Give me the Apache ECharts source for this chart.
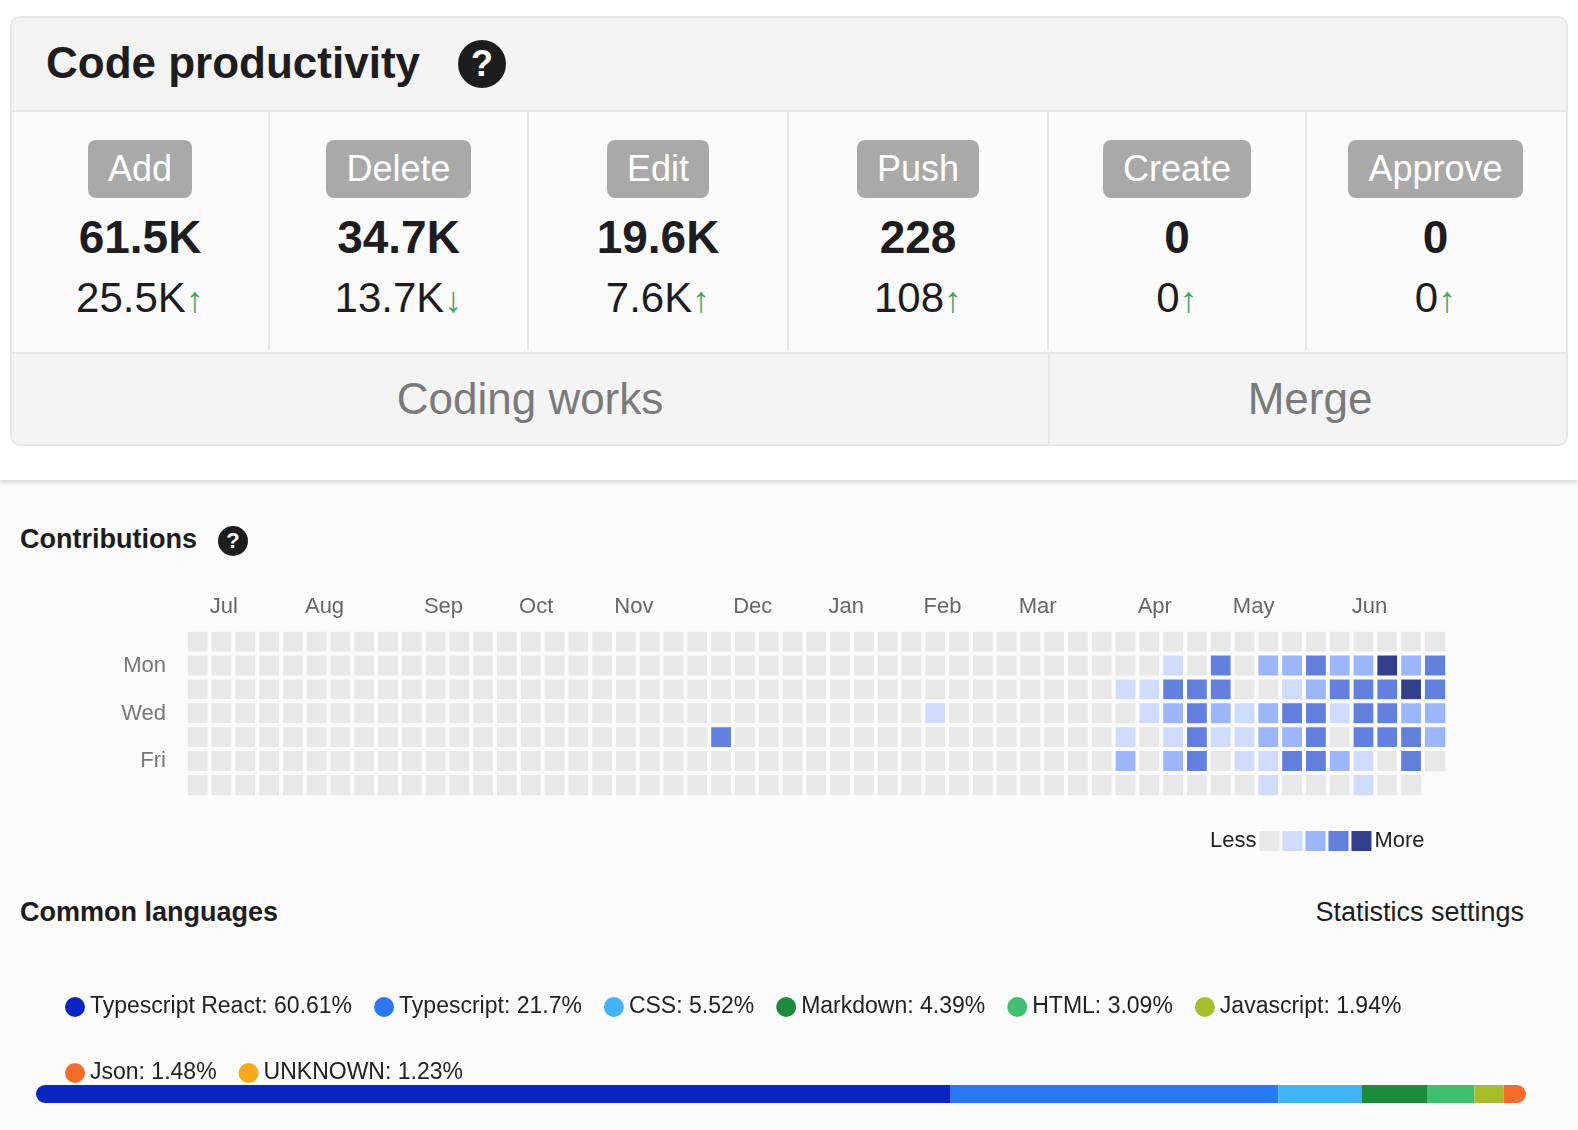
<!DOCTYPE html>
<html>
<head>
<meta charset="utf-8">
<script src="https://cdn.jsdelivr.net/npm/echarts@6/dist/echarts.min.js"></script>
<style>
  body { margin:0; width:1578px; height:1130px; background:#fbfbfb; font-family:"Liberation Sans", Arial, sans-serif; color:#222; position:relative; overflow:hidden; }
  .top { position:absolute; left:0; top:0; width:1578px; height:480px; background:#fff; box-shadow:0 3px 4px rgba(0,0,0,0.12); }
  .card { position:absolute; left:10px; top:16px; width:1554px; height:426px; border:2px solid #e6e6e6; border-radius:10px; background:#fafafa; overflow:hidden; }
  .head { position:absolute; left:0; top:0; width:100%; height:92px; background:#f4f4f4; border-bottom:2px solid #e6e6e6; }
  .head span.t { position:absolute; left:34px; top:20px; font-size:44px; font-weight:bold; color:#1d1d1f; }
  .q { display:inline-block; background:#1d1d1f; color:#fff; border-radius:50%; text-align:center; font-weight:bold; position:absolute; }
  .cell { position:absolute; top:94px; height:238px; border-right:2px solid #e6e6e6; text-align:center; }
  .pill { display:inline-block; margin-top:28px; background:#a9a9a9; color:#fff; font-size:36px; line-height:58px; height:58px; padding:0 20px; border-radius:8px; }
  .big { font-size:46px; font-weight:bold; margin-top:12px; color:#1d1d1f; }
  .sub { font-size:42px; margin-top:10px; color:#1d1d1f; }
  .sub b { color:#3fa46c; font-size:36px; }
  .foot { position:absolute; top:334px; height:92px; background:#f4f4f4; border-top:2px solid #e6e6e6; text-align:center; font-size:44px; line-height:90px; color:#7a7a7a; }
  .h2 { position:absolute; font-size:27px; font-weight:bold; color:#1d1d1f; }
  #chart { position:absolute; left:0; top:480px; width:1578px; height:650px; }
</style>
</head>
<body>
<div class="top">
  <div class="card">
    <div class="head"><span class="t">Code productivity</span><span class="q" style="left:446px;top:22px;width:48px;height:48px;line-height:48px;font-size:36px;">?</span></div>
    <div id="cells"></div>
    <div class="foot" style="left:0;width:1036px;border-right:2px solid #e6e6e6;">Coding works</div>
    <div class="foot" style="left:1038px;width:520px;">Merge</div>
  </div>
</div>
<div class="h2" style="left:20px;top:524px;">Contributions</div>
<span class="q" style="left:218px;top:526px;width:30px;height:30px;line-height:30px;font-size:22px;">?</span>
<div class="h2" style="left:20px;top:897px;">Common languages</div>
<div style="position:absolute;right:54px;top:897px;font-size:27px;color:#1d1d1f;">Statistics settings</div>
<div id="chart"></div>
<script>
// 顶部指标
var metricNames = ['Add', 'Delete', 'Edit', 'Push', 'Create', 'Approve'];
var metricTotals = ['61.5K', '34.7K', '19.6K', '228', '0', '0'];
var metricDeltas = ['25.5K', '13.7K', '7.6K', '108', '0', '0'];
var metricUp = [true, false, true, true, true, true];

// 贡献热力图（每行 53 周，0-4 级）
var weekDays = ['Sun', 'Mon', 'Tue', 'Wed', 'Thu', 'Fri', 'Sat'];
var monthNames = ['Jul', 'Aug', 'Sep', 'Oct', 'Nov', 'Dec', 'Jan', 'Feb', 'Mar', 'Apr', 'May', 'Jun'];
var monthStartWeeks = [1, 5, 10, 14, 18, 23, 27, 31, 35, 40, 44, 49];
var rowSun = [0,0,0,0,0,0,0,0,0,0, 0,0,0,0,0,0,0,0,0,0, 0,0,0,0,0,0,0,0,0,0, 0,0,0,0,0,0,0,0, 0,0,0,0,0,0,0,0,0,0,0,0,0,0,0];
var rowMon = [0,0,0,0,0,0,0,0,0,0, 0,0,0,0,0,0,0,0,0,0, 0,0,0,0,0,0,0,0,0,0, 0,0,0,0,0,0,0,0, 0,0,0,1,0,3,0,2,2,3,2,2,4,2,3];
var rowTue = [0,0,0,0,0,0,0,0,0,0, 0,0,0,0,0,0,0,0,0,0, 0,0,0,0,0,0,0,0,0,0, 0,0,0,0,0,0,0,0, 0,1,1,3,3,3,0,0,1,2,3,3,3,4,3];
var rowWed = [0,0,0,0,0,0,0,0,0,0, 0,0,0,0,0,0,0,0,0,0, 0,0,0,0,0,0,0,0,0,0, 0,1,0,0,0,0,0,0, 0,0,1,2,3,2,1,2,3,3,1,3,3,2,2];
var rowThu = [0,0,0,0,0,0,0,0,0,0, 0,0,0,0,0,0,0,0,0,0, 0,0,3,0,0,0,0,0,0,0, 0,0,0,0,0,0,0,0, 0,1,0,1,3,1,1,2,2,3,0,3,3,3,2];
var rowFri = [0,0,0,0,0,0,0,0,0,0, 0,0,0,0,0,0,0,0,0,0, 0,0,0,0,0,0,0,0,0,0, 0,0,0,0,0,0,0,0, 0,2,0,2,3,0,1,1,3,3,2,1,0,3,0];
var rowSat = [0,0,0,0,0,0,0,0,0,0, 0,0,0,0,0,0,0,0,0,0, 0,0,0,0,0,0,0,0,0,0, 0,0,0,0,0,0,0,0, 0,0,0,0,0,0,0,1,0,0,0,1,0,0,null];
var levelColors = ['#e8e8e8', '#cfdcfc', '#9db5fa', '#6380dc', '#333f8a'];

// 语言占比
var langNames = ['Typescript React', 'Typescript', 'CSS', 'Markdown', 'HTML', 'Javascript', 'Json', 'UNKNOWN'];
var langPercents = [60.61, 21.7, 5.52, 4.39, 3.09, 1.94, 1.48, 1.23];
var langColors = ['#0a25c2', '#2a78f6', '#43b3f9', '#1f8a3c', '#40c06f', '#a6bc2a', '#f46b2c', '#f7a81b'];

(function () {
    var html = '';
    var edges = [0, 258, 517, 777, 1037, 1295, 1554];
    for (var i = 0; i < metricNames.length; i++) {
        html += '<div class="cell" style="left:' + edges[i] + 'px;width:' + (edges[i + 1] - edges[i] - 2) + 'px;' + (i == 5 ? 'border-right:none;' : '') + '">' +
            '<span class="pill">' + metricNames[i] + '</span>' +
            '<div class="big">' + metricTotals[i] + '</div>' +
            '<div class="sub">' + metricDeltas[i] + '<b>' + (metricUp[i] ? '\u2191' : '\u2193') + '</b></div></div>';
    }
    document.getElementById('cells').innerHTML = html;
})();

(function () {
    var myChart = echarts.init(document.getElementById('chart'));
    var rows = [rowSun, rowMon, rowTue, rowWed, rowThu, rowFri, rowSat];
    var heat = [];
    var weeks = [];
    for (var w = 0; w < 53; w++) weeks.push(w);
    for (var r = 0; r < 7; r++) {
        for (var c = 0; c < rows[r].length; c++) {
            if (rows[r][c] !== null) heat.push([c, r, rows[r][c]]);
        }
    }
    var barMax = 0;
    for (var i = 0; i < langPercents.length - 1; i++) barMax += langPercents[i];

    var langSeries = langNames.map(function (n, i) {
        var radius = [0, 0, 0, 0];
        if (i == 0) radius = [9, 0, 0, 9];
        if (i == langNames.length - 2) radius = [0, 9, 9, 0];
        return {
            name: n, type: 'bar', stack: 'lang', xAxisIndex: 2, yAxisIndex: 1,
            barWidth: 18, itemStyle: { color: langColors[i], borderRadius: radius },
            data: [langPercents[i]]
        };
    });

    var option = {
        textStyle: { fontFamily: 'Liberation Sans, Arial, sans-serif' },
        grid: [
            { left: 186, top: 150, width: 1261, height: 167 },
            { left: 36, right: 52, top: 605, height: 18 }
        ],
        xAxis: [
            { type: 'category', gridIndex: 0, data: weeks, show: false },
            { type: 'value', gridIndex: 0, min: 0, max: 53, position: 'top',
              axisLine: { show: false }, axisTick: { show: false }, splitLine: { show: false },
              axisLabel: { customValues: monthStartWeeks, align: 'left', margin: 12, color: '#666', fontSize: 22,
                  formatter: function (v) { return monthNames[monthStartWeeks.indexOf(v)]; } } },
            { type: 'value', gridIndex: 1, min: 0, max: barMax, show: false }
        ],
        yAxis: [
            { type: 'category', gridIndex: 0, data: weekDays, inverse: true,
              axisLine: { show: false }, axisTick: { show: false }, splitLine: { show: false },
              axisLabel: { margin: 20, color: '#777', fontSize: 22,
                  formatter: function (v, i) { return (i % 2 == 1 && i < 6) ? v : ''; }, interval: 0 } },
            { type: 'category', gridIndex: 1, data: ['lang'], show: false }
        ],
        visualMap: {
            type: 'piecewise', seriesIndex: 0, orient: 'horizontal',
            left: 1195, top: 335, itemWidth: 20, itemHeight: 20, itemGap: 3, itemSymbol: 'rect',
            text: ['More', 'Less'], textGap: 16, textStyle: { color: '#222', fontSize: 22 },
            showLabel: false,
            pieces: [
                { value: 0, color: levelColors[0] },
                { value: 1, color: levelColors[1] },
                { value: 2, color: levelColors[2] },
                { value: 3, color: levelColors[3] },
                { value: 4, color: levelColors[4] }
            ]
        },
        legend: {
            left: 60, top: 500, width: 1470, itemGap: 22, itemWidth: 20, itemHeight: 20, icon: 'circle',
            data: langNames,
            textStyle: { fontSize: 23, color: '#222', lineHeight: 44 },
            formatter: function (n) { return n + ': ' + langPercents[langNames.indexOf(n)] + '%'; },
            selectedMode: false
        },
        series: [{
            type: 'heatmap', xAxisIndex: 0, yAxisIndex: 0, data: heat,
            itemStyle: { borderColor: '#fbfbfb', borderWidth: 4 },
            emphasis: { disabled: true }
        }].concat(langSeries)
    };
    myChart.setOption(option);
})();
</script>
</body>
</html>
